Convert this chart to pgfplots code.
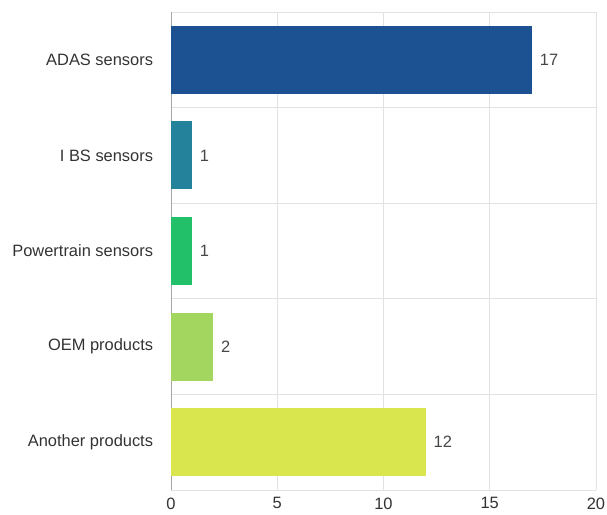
\documentclass[border=0pt]{standalone}
\usepackage{fontspec}
\setmainfont{Liberation Sans}
\usepackage{pgfplots}
\pgfplotsset{compat=1.18}
\definecolor{cA}{HTML}{1C5192}
\definecolor{cB}{HTML}{24829A}
\definecolor{cC}{HTML}{22C069}
\definecolor{cD}{HTML}{A2D65E}
\definecolor{cE}{HTML}{D9E64E}
\definecolor{gridc}{HTML}{E2E2E2}
\definecolor{txt}{HTML}{333333}
\begin{document}
\fontsize{16.5}{19}\selectfont
\begin{tikzpicture}
\begin{axis}[
  scale only axis,
  width=425bp, height=478bp,
  xbar, bar width=0.71, bar shift=0pt,
  xmin=0, xmax=20,
  ymin=-0.5, ymax=4.5,
  y dir=reverse,
  xtick={0,5,10,15,20},
  ytick={0,1,2,3,4},
  yticklabels={ADAS sensors, I BS sensors, Powertrain sensors, OEM products, Another products},
  minor ytick={-0.5,0.5,1.5,2.5,3.5,4.5},
  xmajorgrids, yminorgrids,
  grid style={gridc, line width=0.8pt},
  minor grid style={gridc, line width=0.8pt},
  axis line style={draw=none},
  tick style={draw=none},
  /pgf/number format/assume math mode=true,
  ticklabel style={font=\fontsize{16.5}{19}\selectfont, text=txt},
  yticklabel style={xshift=-8bp},
  xticklabel style={yshift=-2bp},
  extra x ticks={0},
  extra x tick labels={},
  extra x tick style={grid style={draw=gray!70, line width=0.9pt}},
  nodes near coords,
  every node near coord/.append style={font=\fontsize{16.5}{19}\selectfont, text=txt!90, xshift=2bp},
]
\addplot[fill=cA, draw=none] coordinates {(17,0)};
\addplot[fill=cB, draw=none] coordinates {(1,1)};
\addplot[fill=cC, draw=none] coordinates {(1,2)};
\addplot[fill=cD, draw=none] coordinates {(2,3)};
\addplot[fill=cE, draw=none] coordinates {(12,4)};
\end{axis}
\pgfresetboundingbox
\path (current axis.south west) ++(-171bp,-25bp) coordinate (bl);
\path (current axis.north east) ++(11bp,12bp) coordinate (tr);
\path[use as bounding box] (bl) rectangle (tr);
\end{tikzpicture}
\end{document}
